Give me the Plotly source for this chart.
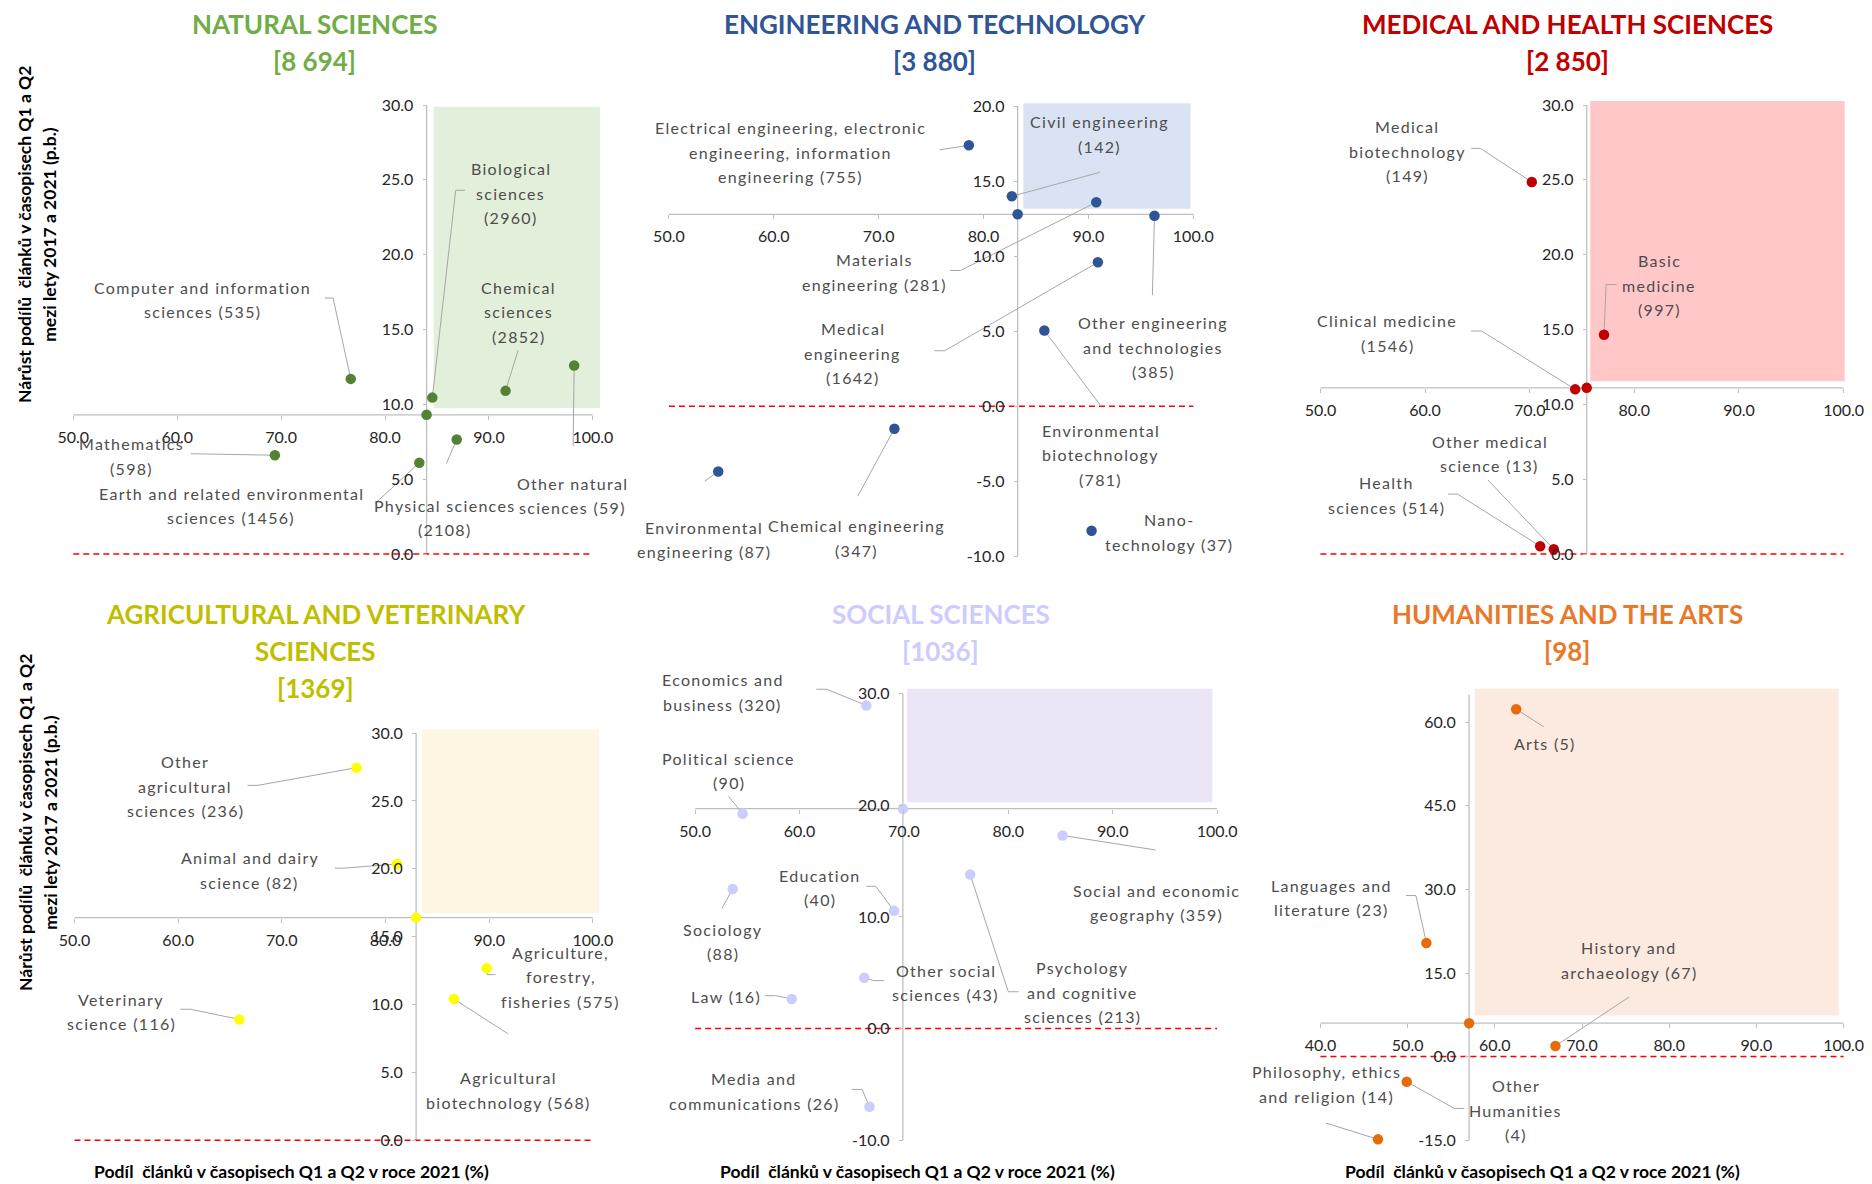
import plotly.graph_objects as go

W, H = 1872, 1184
FONT = "Lato"

# ---------------------------------------------------------------------------
# Data: x = share of articles in Q1+Q2 journals in 2021 (%),
#       y = change of that share between 2017 and 2021 (p.b.),
#       count in brackets = number of articles
# ---------------------------------------------------------------------------
FIELD_TITLES = ["NATURAL SCIENCES", "ENGINEERING AND TECHNOLOGY", "MEDICAL AND HEALTH SCIENCES",
                "AGRICULTURAL AND VETERINARY<br>SCIENCES", "SOCIAL SCIENCES", "HUMANITIES AND THE ARTS"]
FIELD_TOTALS = ["8 694", "3 880", "2 850", "1369", "1036", "98"]
# field-level values (the axes cross here)
FIELD_AVG_X = [84.0, 83.25, 75.45, 82.95, 69.9, 57.05]
FIELD_AVG_Y = [9.3, 12.8, 11.1, 16.4, 19.7, 6.0]

NS_NAMES = ["Computer and information<br>sciences", "Biological<br>sciences", "Chemical<br>sciences",
            "Other natural<br>sciences", "Mathematics", "Earth and related environmental<br>sciences",
            "Physical sciences"]
NS_COUNTS = [535, 2960, 2852, 59, 598, 1456, 2108]
NS_X = [76.7, 84.55, 91.6, 98.2, 69.4, 83.3, 86.9]
NS_Y = [11.7, 10.45, 10.9, 12.6, 6.6, 6.1, 7.65]

EN_NAMES = ["Electrical engineering, electronic<br>engineering, information<br>engineering",
            "Civil engineering", "Materials<br>engineering", "Other engineering<br>and technologies",
            "Medical<br>engineering", "Environmental<br>biotechnology", "Chemical engineering",
            "Environmental<br>engineering", "Nano-<br>technology"]
EN_COUNTS = [755, 142, 281, 385, 1642, 781, 347, 87, 37]
EN_X = [78.6, 82.7, 90.75, 96.3, 90.9, 85.8, 71.5, 54.7, 90.3]
EN_Y = [17.4, 14.0, 13.6, 12.7, 9.6, 5.05, -1.5, -4.35, -8.3]

MD_NAMES = ["Medical<br>biotechnology", "Basic<br>medicine", "Clinical medicine",
            "Other medical<br>science", "Health<br>sciences"]
MD_COUNTS = [149, 997, 1546, 13, 514]
MD_X = [70.2, 77.1, 74.35, 72.3, 71.0]
MD_Y = [24.85, 14.65, 11.0, 0.32, 0.52]

AG_NAMES = ["Other<br>agricultural<br>sciences", "Animal and dairy<br>science",
            "Agriculture,<br>forestry,<br>fisheries", "Agricultural<br>biotechnology",
            "Veterinary<br>science"]
AG_COUNTS = [236, 82, 575, 568, 116]
AG_X = [77.2, 81.1, 89.75, 86.6, 65.9]
AG_Y = [27.45, 20.35, 12.68, 10.4, 8.9]

SS_NAMES = ["Economics and<br>business", "Political science", "Social and economic<br>geography",
            "Psychology<br>and cognitive<br>sciences", "Sociology", "Education",
            "Other social<br>sciences", "Law", "Media and<br>communications"]
SS_COUNTS = [320, 90, 359, 213, 88, 40, 43, 16, 26]
SS_X = [66.4, 54.55, 85.2, 76.35, 53.6, 69.05, 66.2, 59.25, 66.7]
SS_Y = [28.95, 19.25, 17.3, 13.8, 12.5, 10.55, 4.55, 2.65, -7.0]

HU_NAMES = ["Arts", "Languages and<br>literature", "History and<br>archaeology",
            "Other<br>Humanities", "Philosophy, ethics<br>and religion"]
HU_COUNTS = [5, 23, 67, 4, 14]
HU_X = [62.45, 52.15, 66.95, 49.9, 46.6]
HU_Y = [62.35, 20.4, 1.9, -4.5, -14.85]

NAMES = [NS_NAMES, EN_NAMES, MD_NAMES, AG_NAMES, SS_NAMES, HU_NAMES]
COUNTS = [NS_COUNTS, EN_COUNTS, MD_COUNTS, AG_COUNTS, SS_COUNTS, HU_COUNTS]
XS = [NS_X, EN_X, MD_X, AG_X, SS_X, HU_X]
YS = [NS_Y, EN_Y, MD_Y, AG_Y, SS_Y, HU_Y]

# axis ticks
X_TICKS = [[50, 60, 70, 80, 90, 100]] * 5 + [[40, 50, 60, 70, 80, 90, 100]]
Y_TICKS = [[0, 5, 10, 15, 20, 25, 30], [-10, -5, 0, 5, 10, 15, 20], [0, 5, 10, 15, 20, 25, 30],
           [0, 5, 10, 15, 20, 25, 30], [-10, 0, 10, 20, 30], [-15, 0, 15, 30, 45, 60]]
X_LIMITS = [(50, 100)] * 5 + [(40, 100)]
Y_LIMITS = [(0, 30), (-10, 20), (0, 30), (0, 30), (-10, 30), (-15, 65)]

# highlighted quadrant (x0, y0, x1, y1)
QUADS = [(84.68, 9.75, 100.69, 29.88), (83.8, 13.17, 99.74, 20.2), (75.78, 11.55, 100.1, 30.27),
         (83.52, 16.75, 100.58, 30.26), (70.3, 20.28, 99.55, 30.45), (57.68, 7.39, 99.45, 66.0)]

# ---------------------------------------------------------------------------
# Styling
# ---------------------------------------------------------------------------
TITLE_COLORS = ["#70AD47", "#2F5597", "#C00000", "#BFBF00", "#CCCCFF", "#E8792B"]
POINT_COLORS = ["#548235", "#2F5597", "#C00000", "#FFFF00", "#CCCCFF", "#E46C0A"]
QUAD_COLORS = ["#E2EFDA", "#DAE3F3", "#FFC7C7", "#FEF6E3", "#ECE5F7", "#FCE9DF"]
AXIS_GREY = "#BFBFBF"
LEADER_GREY = "#A6A6A6"
LABEL_COLOR = "#4D4D4D"
TICK_COLOR = "#262626"

# pixel frame of each panel: x_lo/x_hi and y_lo/y_hi pixel positions
FRAMES = [
    (71.6, 593.4, 554.0, 105.0),
    (669.8, 1196.4, 556.2, 106.3),
    (1324.1, 1849.5, 554.0, 105.0),
    (72.8, 593.4, 1140.2, 733.1),
    (696.1, 1220.3, 1140.2, 693.7),
    (1324.1, 1849.5, 1140.2, 694.4),
]
PAD_PX = 14
TITLE_X = [314, 937, 1572, 315, 943, 1572]
TITLE_TOP = [24, 24, 24, 614, 614, 614]
TITLE_STEP = 37

# label placement: (text x, text y, leader points towards the marker, separator before count)
NS_LAB = [(62.4, 17.0, [(74.2, 17.1), (75.0, 17.1)], " "),
          (92.1, 24.1, [(87.7, 24.3), (86.8, 24.3)], "<br>"),
          (92.8, 16.2, [(92.8, 13.6)], "<br>"),
          (98.0, 3.9, [(98.1, 7.2)], " "),
          (55.6, 6.55, [(61.3, 6.7)], "<br>"),
          (65.2, 3.25, [(79.0, 3.35)], " "),
          (85.7, 2.45, [(85.9, 6.05)], "<br>")]
EN_LAB = [(61.6, 16.95, [(75.8, 17.1), (76.7, 17.2)], " "),
          (91.1, 18.15, [(91.1, 15.6)], "<br>"),
          (69.6, 8.95, [(76.8, 9.05), (77.8, 9.05)], " "),
          (96.2, 3.95, [(96.1, 7.4)], "<br>"),
          (67.55, 3.55, [(75.3, 3.7), (76.3, 3.7)], "<br>"),
          (91.2, -3.25, [(91.2, 0.0)], "<br>"),
          (67.9, -8.8, [(68.0, -6.0)], "<br>"),
          (53.3, -8.9, [(53.4, -5.0)], " "),
          (97.7, -8.4, [], " ")]
MD_LAB = [(58.3, 26.9, [(64.4, 27.1), (65.3, 27.1)], "<br>"),
          (82.4, 17.95, [(78.3, 18.0), (77.3, 18.0)], "<br>"),
          (56.4, 14.75, [(64.4, 14.9), (65.4, 14.9)], "<br>"),
          (66.2, 6.7, [(66.0, 4.95)], " "),
          (56.3, 3.95, [(62.2, 4.0), (63.1, 4.0)], " ")]
AG_LAB = [(60.7, 26.1, [(66.7, 26.15), (67.7, 26.15)], " "),
          (66.9, 19.9, [(75.1, 20.05), (76.0, 20.05)], " "),
          (96.9, 12.05, [(90.6, 12.2), (89.8, 12.2)], " "),
          (91.9, 3.7, [(91.8, 7.85)], " "),
          (54.5, 9.5, [(60.2, 9.65), (61.2, 9.65)], " ")]
SS_LAB = [(52.65, 30.15, [(61.6, 30.4), (62.6, 30.4)], " "),
          (53.2, 23.1, [(53.2, 20.8)], "<br>"),
          (94.2, 11.3, [(94.1, 16.0)], " "),
          (87.1, 3.25, [(81.0, 3.3), (80.0, 3.3)], " "),
          (52.65, 7.8, [(52.55, 10.75)], "<br>"),
          (62.0, 12.65, [(66.4, 12.75), (67.3, 12.75)], "<br>"),
          (74.0, 4.15, [(68.1, 4.3), (67.1, 4.3)], " "),
          (53.0, 2.85, [(56.7, 2.95), (57.7, 2.95)], " "),
          (55.6, -5.6, [(65.0, -5.45), (66.0, -5.45)], " ")]
HU_LAB = [(65.7, 56.2, [(65.6, 59.2)], " "),
          (41.3, 28.55, [(49.8, 28.9), (50.95, 28.9)], " "),
          (75.4, 17.3, [(75.4, 10.7)], " "),
          (62.4, -9.65, [(56.5, -9.3), (55.35, -9.3)], "<br>"),
          (40.7, -4.95, [(40.6, -11.9)], " ")]
LABELS = [NS_LAB, EN_LAB, MD_LAB, AG_LAB, SS_LAB, HU_LAB]

LABEL_SIZE = 16
LETTER_SP = 1.3
LINE_PX = 24.5


def spaced(line):
    return f"<span style='letter-spacing:{LETTER_SP}px'>{line}</span>"


fig = go.Figure()
annotations, shapes, axes = [], [], {}

for i in range(6):
    k = "" if i == 0 else str(i + 1)
    xref, yref = f"x{k}", f"y{k}"
    xl, xh = X_LIMITS[i]
    yl, yh = Y_LIMITS[i]
    pxl, pxh, pyb, pyt = FRAMES[i]
    sx = (pxh - pxl) / (xh - xl)
    sy = (pyb - pyt) / (yh - yl)
    padx, pady = PAD_PX / sx, PAD_PX / sy
    cx, cy = FIELD_AVG_X[i], FIELD_AVG_Y[i]

    tickfont = dict(family=FONT, size=16, color=TICK_COLOR)
    axes[f"xaxis{k}"] = dict(
        domain=[(pxl - PAD_PX) / W, (pxh + PAD_PX) / W], range=[xl - padx, xh + padx],
        anchor="free", position=1 - (pyb - (cy - yl) * sy) / H,
        tickvals=X_TICKS[i], ticktext=[f"{v:.1f}" for v in X_TICKS[i]],
        ticks="outside", ticklen=4, tickwidth=1, tickcolor=AXIS_GREY, ticklabelstandoff=4,
        showline=False, showgrid=False, zeroline=False, tickfont=tickfont, fixedrange=True)
    axes[f"yaxis{k}"] = dict(
        domain=[1 - (pyb + PAD_PX) / H, 1 - (pyt - PAD_PX) / H], range=[yl - pady, yh + pady],
        anchor="free", position=(pxl + (cx - xl) * sx) / W,
        tickvals=Y_TICKS[i], ticktext=[f"{v:.1f}" for v in Y_TICKS[i]],
        ticks="outside", ticklen=4, tickwidth=1, tickcolor=AXIS_GREY, ticklabelstandoff=6,
        showline=False, showgrid=False, zeroline=False, tickfont=tickfont, fixedrange=True)

    # highlighted quadrant
    qx0, qy0, qx1, qy1 = QUADS[i]
    shapes.append(dict(type="rect", xref=xref, yref=yref, x0=qx0, y0=qy0, x1=qx1, y1=qy1,
                       fillcolor=QUAD_COLORS[i], line=dict(width=0), layer="below"))
    # axis lines crossing at the field value
    shapes.append(dict(type="line", xref=xref, yref=yref, x0=xl, x1=xh, y0=cy, y1=cy,
                       line=dict(color=AXIS_GREY, width=1.3), layer="below"))
    shapes.append(dict(type="line", xref=xref, yref=yref, x0=cx, x1=cx, y0=yl, y1=yh,
                       line=dict(color=AXIS_GREY, width=1.3), layer="below"))
    # zero reference
    shapes.append(dict(type="line", xref=xref, yref=yref, x0=xl, x1=xh, y0=0, y1=0,
                       line=dict(color="#FF0000", width=1.5, dash="6px,4px"), layer="below"))

    # leader lines
    lx, ly = [], []
    for (tx, ty, pts, sep), px, py in zip(LABELS[i], XS[i], YS[i]):
        if pts:
            lx += [p[0] for p in pts] + [px, None]
            ly += [p[1] for p in pts] + [py, None]
    fig.add_trace(go.Scatter(x=lx, y=ly, xaxis=xref, yaxis=yref, mode="lines",
                             line=dict(color=LEADER_GREY, width=1), hoverinfo="skip",
                             showlegend=False))
    # sub-field points
    fig.add_trace(go.Scatter(x=XS[i], y=YS[i], xaxis=xref, yaxis=yref, mode="markers",
                             marker=dict(size=10.5, color=POINT_COLORS[i]), cliponaxis=False,
                             showlegend=False, hoverinfo="skip"))
    # field point
    fig.add_trace(go.Scatter(x=[cx], y=[cy], xaxis=xref, yaxis=yref, mode="markers",
                             marker=dict(size=10.5, color=POINT_COLORS[i]), cliponaxis=False,
                             showlegend=False, hoverinfo="skip"))

    # data labels, one annotation per text line for the wider line spacing
    for (tx, ty, pts, sep), name, cnt in zip(LABELS[i], NAMES[i], COUNTS[i]):
        lines = f"{name}{sep}({cnt})".split("<br>")
        n = len(lines)
        for j, ln in enumerate(lines):
            annotations.append(dict(x=tx, y=ty, xref=xref, yref=yref, showarrow=False,
                                    text=spaced(ln), yshift=((n - 1) / 2 - j) * LINE_PX,
                                    font=dict(family=FONT, size=LABEL_SIZE, color=LABEL_COLOR),
                                    xanchor="center", yanchor="middle"))

    # panel title
    lines = FIELD_TITLES[i].split("<br>") + [f"[{FIELD_TOTALS[i]}]"]
    for j, ln in enumerate(lines):
        annotations.append(dict(x=TITLE_X[i] / W, y=1 - (TITLE_TOP[i] + j * TITLE_STEP) / H,
                                xref="paper", yref="paper", showarrow=False, text=f"<b>{ln}</b>",
                                font=dict(family=FONT, size=26, color=TITLE_COLORS[i]),
                                xanchor="center", yanchor="middle"))

# axis titles
Y_TITLE = ["Nárůst podílů  článků v časopisech Q1 a Q2", "mezi lety 2017 a 2021 (p.b.)"]
X_TITLE = "Podíl  článků v časopisech Q1 a Q2 v roce 2021 (%)"
for yc in (234, 822):
    for j, ln in enumerate(Y_TITLE):
        annotations.append(dict(x=(23 + j * 25) / W, y=1 - yc / H, xref="paper", yref="paper",
                                showarrow=False, text=f"<b>{ln}</b>", textangle=-90,
                                font=dict(family=FONT, size=17.5, color="#000000"),
                                xanchor="center", yanchor="middle"))
for xc in (291, 919, 1547):
    annotations.append(dict(x=xc / W, y=1 - 1171 / H, xref="paper", yref="paper",
                            showarrow=False, text=f"<b>{X_TITLE}</b>",
                            font=dict(family=FONT, size=17.5, color="#000000"),
                            xanchor="center", yanchor="middle"))

fig.update_layout(width=W, height=H, autosize=False, margin=dict(l=0, r=0, t=0, b=0),
                  paper_bgcolor="white", plot_bgcolor="white", showlegend=False,
                  font=dict(family=FONT), annotations=annotations, shapes=shapes, **axes)

fig.write_html("out.html")
